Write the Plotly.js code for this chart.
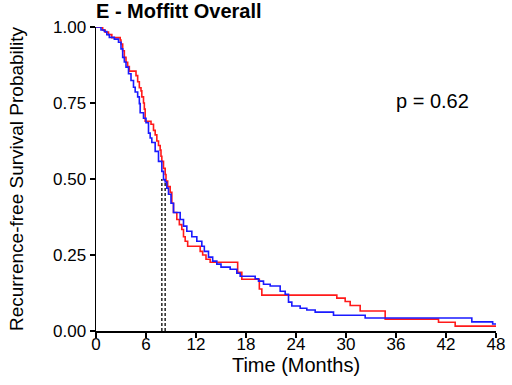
<!DOCTYPE html>
<html>
<head>
<meta charset="utf-8">
<script src="https://cdn.plot.ly/plotly-3.0.1.min.js"></script>
<style>html,body{margin:0;padding:0;background:#fff;}#chart{width:512px;height:385px;}</style>
</head>
<body>
<div id="chart"></div>
<script>
// Kaplan-Meier step data (time in months, survival probability)
const redTime = [0,0.8,1.1,1.5,1.9,2.9,3.0,3.2,3.4,3.6,3.8,4.0,4.8,5.0,5.2,5.4,5.5,5.7,5.8,5.9,6.6,6.9,7.1,7.3,7.5,7.7,7.8,7.9,8.1,8.3,8.4,8.6,8.9,9.1,9.3,9.7,10.0,10.3,10.5,10.7,11.0,12.5,12.8,13.2,13.7,17.0,17.5,19.6,19.9,28.9,29.9,30.5,31.7,34.7,41.1,43.1,48];
const redSurv = [1.0,0.99,0.983,0.975,0.965,0.957,0.944,0.922,0.90,0.884,0.87,0.855,0.84,0.82,0.80,0.79,0.77,0.75,0.73,0.69,0.68,0.66,0.645,0.625,0.61,0.595,0.575,0.558,0.535,0.515,0.493,0.475,0.456,0.42,0.39,0.367,0.35,0.334,0.31,0.295,0.279,0.262,0.25,0.236,0.226,0.193,0.17,0.138,0.118,0.108,0.097,0.084,0.066,0.039,0.029,0.016,0.016];
const blueTime = [0,0.6,1.0,1.3,1.6,2.2,2.7,3.0,3.2,3.4,3.6,3.9,4.2,4.5,4.7,5.0,5.2,5.3,5.7,6.0,6.3,6.5,6.7,7.1,7.5,7.9,8.1,8.3,8.5,8.7,9.0,9.3,10.1,10.5,10.9,11.5,12.1,12.7,13.0,13.5,14.0,14.5,15.0,16.1,16.9,17.3,19.1,19.5,20.1,20.9,22.1,22.7,23.1,23.5,24.5,25.3,26.3,28.5,32.3,45.1,47.6,48];
const blueSurv = [1.0,0.99,0.985,0.975,0.966,0.96,0.95,0.928,0.90,0.885,0.868,0.846,0.824,0.802,0.786,0.77,0.748,0.718,0.70,0.685,0.651,0.635,0.62,0.591,0.558,0.525,0.498,0.49,0.47,0.45,0.42,0.39,0.367,0.345,0.328,0.31,0.295,0.279,0.262,0.243,0.23,0.22,0.21,0.203,0.19,0.18,0.172,0.164,0.154,0.148,0.131,0.121,0.095,0.082,0.075,0.069,0.062,0.052,0.043,0.03,0.023,0.023];
const medianTimes = [7.9, 8.3];
const medianLevel = 0.5;
const xTicks = [0,6,12,18,24,30,36,42,48];
const yTicks = [0,0.25,0.5,0.75,1.0];
const xTitle = "Time (Months)";
const yTitle = "Recurrence-free Survival Probability";
const pText = "p = 0.62";

const F = "Liberation Sans, Arial, sans-serif";
const traces = [];
medianTimes.forEach(m => {
  traces.push({x:[m,m], y:[0,medianLevel], mode:'lines', line:{color:'#333333', width:1.6, dash:'3px,2px'}, hoverinfo:'skip', showlegend:false});
});
traces.push({x:redTime, y:redSurv, mode:'lines', line:{shape:'hv', color:'#ff1a1a', width:1.6}, showlegend:false});
traces.push({x:blueTime, y:blueSurv, mode:'lines', line:{shape:'hv', color:'#1a1aff', width:1.6}, showlegend:false});

const layout = {
  width:512, height:385,
  margin:{l:96, r:16, t:27, b:54},
  paper_bgcolor:'#fff', plot_bgcolor:'#fff',
  showlegend:false,
  title:{text:'<b>E - Moffitt Overall</b>', font:{family:F, size:20, color:'#000'}, x:96/512, xanchor:'left', xref:'container', y:1-11/385, yanchor:'middle', yref:'container'},
  xaxis:{range:[0,48], tickvals:xTicks, ticktext:xTicks.map(String), showgrid:false, zeroline:false, showline:true, linecolor:'#000', linewidth:1.5, ticks:'outside', ticklen:5, tickwidth:1.5, tickcolor:'#000', ticklabelstandoff:-8, tickfont:{family:F, size:17, color:'#000'}, title:{text:xTitle, font:{family:F, size:20, color:'#000'}, standoff:0}},
  yaxis:{range:[0,1], tickvals:yTicks, ticktext:yTicks.map(v=>v.toFixed(2)), showgrid:false, zeroline:false, showline:true, linecolor:'#000', linewidth:1.5, ticks:'outside', ticklen:5, tickwidth:1.5, tickcolor:'#000', tickfont:{family:F, size:17, color:'#000'}, title:{text:yTitle, font:{family:F, size:19, color:'#000'}, standoff:24}},
  annotations:[
    {text:pText, x:0.84, y:(331-101)/304, xref:'paper', yref:'paper', xanchor:'center', yanchor:'middle', showarrow:false, font:{family:F, size:20, color:'#000'}}
  ]
};
Plotly.newPlot('chart', traces, layout, {staticPlot:true, displayModeBar:false});
</script>
</body>
</html>
